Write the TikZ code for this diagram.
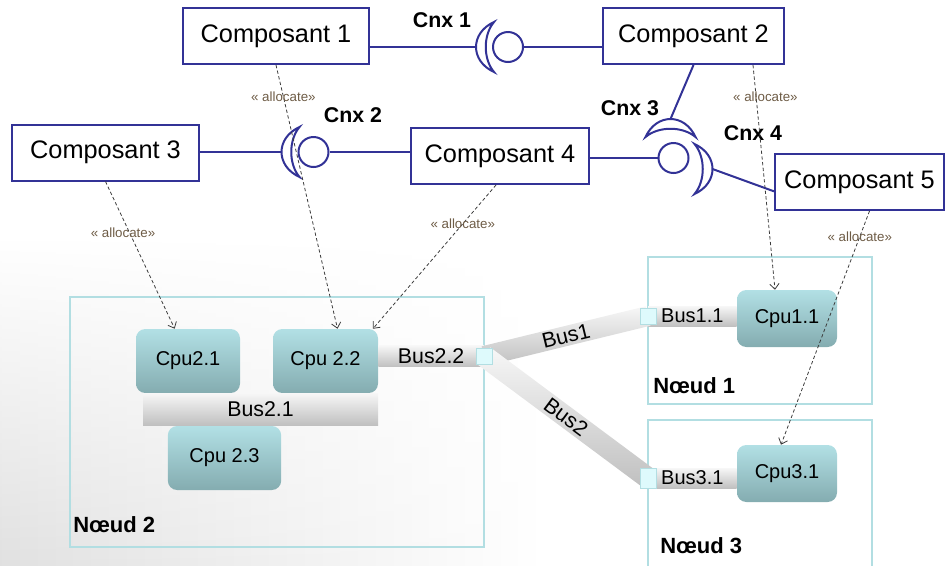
\documentclass[tikz,border=0pt]{standalone}
\usepackage{xcolor}
\usepackage{fontspec}
\setmainfont{Liberation Sans}
\usepackage{tikz}
\usetikzlibrary{calc}
\usetikzlibrary{fadings}
\usetikzlibrary{arrows.meta}

\definecolor{compblue}{RGB}{50,50,150}
\definecolor{noeudline}{RGB}{178,222,226}
\definecolor{cputop}{RGB}{178,224,229}
\definecolor{cpubot}{RGB}{132,172,176}
\definecolor{bustop}{RGB}{247,247,247}
\definecolor{busbot}{RGB}{192,192,192}
\definecolor{portfill}{RGB}{222,250,252}
\definecolor{allocgray}{RGB}{60,60,60}
\definecolor{alloctext}{RGB}{110,92,70}

\begin{document}
\begin{tikzpicture}[x=0.75pt,y=0.75pt,yscale=-1,
    compo/.style={draw=compblue, line width=1.5pt, fill=white, inner sep=0pt, minimum height=42pt, font=\fontsize{19}{23}\selectfont},
    cnx/.style={draw=compblue, line width=1.5pt},
    cnxball/.style={cnx, circle, fill=white, inner sep=0pt, minimum size=22.5pt},
    cnxlabel/.style={font=\bfseries\fontsize{16}{19}\selectfont, inner sep=0pt},
    noeud/.style={draw=noeudline, line width=1.5pt, inner sep=0pt},
    noeudlabel/.style={font=\bfseries\fontsize{16.5}{20}\selectfont, anchor=west, inner sep=0pt},
    cpu/.style={top color=cputop, bottom color=cpubot, rounded corners=7pt, inner sep=0pt, minimum height=48pt, font=\fontsize{15}{18}\selectfont},
    bus/.style={top color=bustop, bottom color=busbot, inner sep=0pt, minimum height=15pt, font=\fontsize{16}{19}\selectfont},
    port/.style={draw=noeudline, line width=0.6pt, fill=portfill, inner sep=0pt, minimum size=12pt},
    alloc/.style={draw=allocgray, line width=0.6pt, dash pattern=on 2.5pt off 1.8pt, -{Straight Barb[length=4pt,width=7pt]}},
    alloclabel/.style={text=alloctext, font=\fontsize{10}{12}\selectfont, inner sep=0pt},
    socket/.pic={
        \draw[cnx, fill=white] (-14,-25) .. controls (-38,-14) and (-38,14) .. (-14,25) .. controls (-25,12) and (-25,-12) .. cycle ;
        \coordinate (-apex) at (-32,0);
    }]
    \useasboundingbox (0,0) rectangle (945,565);

    %Background
    \shade[left color=black!12, right color=white, path fading=north] (0,235) rectangle (545,565);

    %Nodes (containers)
    \node[noeud, minimum width=310.5pt, minimum height=187.5pt] (n2) at (277,422) {};
    \node[noeud, minimum width=168pt, minimum height=110.25pt] (n1) at (760,330.5) {};
    \node[noeud, minimum width=168pt, minimum height=120pt] (n3) at (760,500) {};
    \node[noeudlabel] (n2label) at (73,525) {Nœud 2};
    \node[noeudlabel] (n1label) at (653,386) {Nœud 1};
    \node[noeudlabel] (n3label) at (660,546) {Nœud 3};

    %Cpus
    \node[cpu, minimum width=78pt] (cpu21) at (188,361) {Cpu2.1};
    \node[cpu, minimum width=78.75pt] (cpu22) at (325.5,361) {Cpu 2.2};
    \node[cpu, minimum width=85pt] (cpu23) at (224.5,458) {Cpu 2.3};
    \node[cpu, minimum width=75pt, minimum height=42.75pt] (cpu11) at (787,318.5) {Cpu1.1};
    \node[cpu, minimum width=75pt, minimum height=42.75pt] (cpu31) at (787,473.5) {Cpu3.1};

    %Buses
    \coordinate (j2) at (484,356);
    \coordinate (j1) at (648,316);
    \coordinate (j3) at (648,478);
    \node[bus, minimum width=176.25pt, minimum height=24pt] (bus21) at (260.5,409) {Bus2.1};
    \path let \p1=($(j2)-(cpu22.east |- j2)$) in (cpu22.east |- j2) -- node[bus, minimum width=\x1, minimum height=15.75pt] (bus22) {Bus2.2} (j2);
    \path let \p1=($(cpu11.west |- j1)-(j1)$) in (j1) -- node[bus, minimum width=\x1, font=\fontsize{15}{18}\selectfont] (bus11) {Bus1.1} (cpu11.west |- j1);
    \path let \p1=($(cpu31.west |- j3)-(j3)$) in (j3) -- node[bus, minimum width=\x1, font=\fontsize{15}{18}\selectfont] (bus31) {Bus3.1} (cpu31.west |- j3);
    \path let \p1=($(j1)-(j2)$), \n1={veclen(\x1,\y1)}, \n2={-atan2(\y1,\x1)} in (j2) -- node[bus, rotate=\n2, minimum width=\n1] (bus1) {Bus1} (j1);
    \path let \p1=($(j3)-(j2)$), \n1={veclen(\x1,\y1)}, \n2={-atan2(\y1,\x1)} in (j2) -- node[bus, rotate=\n2, minimum width=\n1, minimum height=16pt] (bus2) {Bus2} (j3);
    \node[port] (p2) at (j2) {};
    \node[port] (p1) at (j1) {};
    \node[port, minimum height=15pt] (p3) at (j3) {};

    %Components
    \node[compo, minimum width=139.5pt] (c1) at (276,36) {Composant 1};
    \node[compo, minimum width=135.75pt] (c2) at (693.5,36) {Composant 2};
    \node[compo, minimum width=140.25pt] (c3) at (105.5,152.5) {Composant 3};
    \node[compo, minimum width=133.5pt] (c4) at (500,156) {Composant 4};
    \node[compo, minimum width=126.75pt] (c5) at (859.5,182) {Composant 5};

    %Connectors
    \node[cnxball] (b1) at (508,47) {};
    \pic (s1) at (b1) {socket};
    \draw[cnx] (b1 -| c1.east) -- (s1-apex);
    \draw[cnx] (b1.east) -- (b1 -| c2.west);
    \node[cnxlabel] (cnx1) at (442,20) {Cnx 1};

    \node[cnxball] (b2) at (313.5,152) {};
    \pic (s2) at (b2) {socket};
    \draw[cnx] (b2 -| c3.east) -- (s2-apex);
    \draw[cnx] (b2.east) -- (b2 -| c4.west);
    \node[cnxlabel] (cnx2) at (353,115) {Cnx 2};

    \node[cnxball] (b34) at (673.5,158) {};
    \pic[rotate=-90] (s3) at ([shift={(-3,-7)}]b34) {socket};
    \pic[rotate=180] (s4) at ([shift={(7,11)}]b34) {socket};
    \draw[cnx] (b34 -| c4.east) -- (b34.west);
    \draw[cnx] (s3-apex) -- (c2.south);
    \draw[cnx] (s4-apex) -- ([yshift=7pt]c5.west);
    \node[cnxlabel] (cnx3) at (630,108) {Cnx 3};
    \node[cnxlabel] (cnx4) at (753,133) {Cnx 4};

    %Allocations
    \draw[alloc] (c1.south) -- node[alloclabel, pos=0.12] {« allocate»} ([xshift=9pt]cpu22.north);
    \draw[alloc] ([xshift=-24pt]c2.south east) -- node[alloclabel, pos=0.14, xshift=7pt] {« allocate»} ([xshift=-9pt]cpu11.north);
    \draw[alloc] (c3.south) -- node[alloclabel, pos=0.35, xshift=-5pt] {« allocate»} ([xshift=-10pt]cpu21.north);
    \draw[alloc] ([xshift=-3pt]c4.south) -- node[alloclabel, pos=0.27] {« allocate»} ([xshift=-4pt]cpu22.north east);
    \draw[alloc] ([xshift=7.5pt]c5.south) -- node[alloclabel, pos=0.11] {« allocate»} ([xshift=-4.5pt]cpu31.north);
\end{tikzpicture}
\end{document}
